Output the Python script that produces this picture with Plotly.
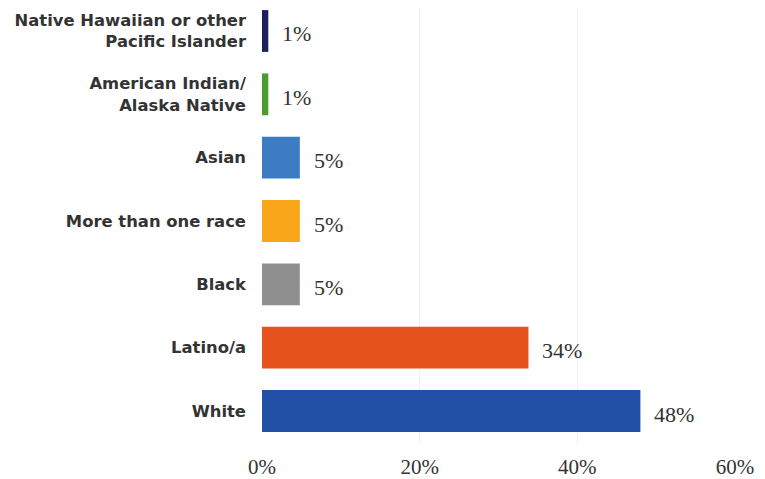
import plotly.graph_objects as go

categories = [
    "Native Hawaiian or other<br>Pacific Islander",
    "American Indian/<br>Alaska Native",
    "Asian",
    "More than one race",
    "Black",
    "Latino/a",
    "White",
]
values = [0.8, 0.8, 4.8, 4.8, 4.8, 33.8, 48.0]
labels = ["1%", "1%", "5%", "5%", "5%", "34%", "48%"]
colors = ["#1b1f5e", "#4c9b2e", "#3b7cc3", "#f9a61b", "#8f8f8f", "#e6521c", "#2150a6"]
tick_vals = [0, 20, 40, 60]
tick_text = ["0%", "20%", "40%", "60%"]

fig = go.Figure()
fig.add_trace(go.Bar(
    y=list(range(len(categories))),
    x=values,
    orientation="h",
    marker=dict(color=colors, line=dict(width=0)),
    width=0.66,
    hoverinfo="skip",
))
for i, (v, t) in enumerate(zip(values, labels)):
    fig.add_annotation(
        x=v, y=i, text=t, showarrow=False, xanchor="left", xshift=12, yshift=-3,
        font=dict(family="Liberation Serif", size=22, color="#333333"),
    )

fig.update_layout(
    width=757, height=471,
    margin=dict(l=254, r=30, t=0, b=36),
    paper_bgcolor="white", plot_bgcolor="white",
    showlegend=False,
    xaxis=dict(
        range=[0, 60], tickvals=tick_vals, ticktext=tick_text,
        showgrid=True, gridcolor="#f2f2f2", gridwidth=1,
        zeroline=False, showline=False, automargin=False,
        tickfont=dict(family="Liberation Serif", size=21, color="#333333"),
        ticklabelstandoff=9,
    ),
    yaxis=dict(
        range=[6.505, -0.363],
        tickvals=list(range(len(categories))), ticktext=categories,
        showgrid=False, zeroline=False, showline=False,
        automargin=False,
        tickfont=dict(family="DejaVu Sans", size=16.4, color="#333333", weight=700),
        ticklabelstandoff=15,
    ),
)
fig.write_html("out.html")
